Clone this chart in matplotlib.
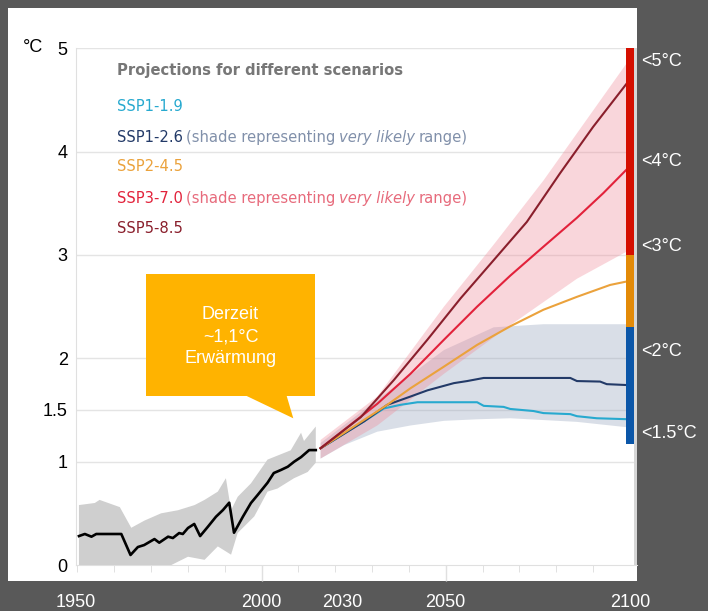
import matplotlib
matplotlib.use("Agg")
import matplotlib.pyplot as plt
from matplotlib import font_manager
from matplotlib.patches import Polygon, Rectangle

W, H = 708, 611

# observed warming 1950-2014 (black line) and its grey range
hist_years = [1950.4, 1952.0, 1953.8, 1955.1, 1961.9, 1964.4, 1966.4, 1968.1, 1970.9, 1972.2,
              1974.6, 1975.9, 1977.6, 1978.6, 1980.0, 1981.7, 1983.3, 1985.4, 1987.6, 1989.5,
              1991.2, 1992.5, 1994.9, 1997.1, 1998.9, 2001.6, 2003.3, 2005.2, 2007.1, 2008.8,
              2010.7, 2012.9, 2014.7]
hist_temp = [0.28, 0.30, 0.274, 0.30, 0.30, 0.097, 0.174, 0.193, 0.251, 0.216,
             0.274, 0.261, 0.309, 0.30, 0.358, 0.397, 0.28, 0.37, 0.467, 0.532,
             0.603, 0.312, 0.467, 0.60, 0.677, 0.796, 0.89, 0.919, 0.951, 0.999,
             1.044, 1.112, 1.112]
hist_hi_years = [1950.4, 1954.7, 1956.0, 1961.5, 1964.6, 1968.2, 1972.7, 1977.3, 1981.8, 1984.5,
                 1988.1, 1990.3, 1991.7, 1993.5, 1997.1, 2001.6, 2007.9, 2010.7, 2011.5, 2014.7]
hist_hi = [0.58, 0.60, 0.63, 0.56, 0.36, 0.43, 0.50, 0.53, 0.58, 0.63,
           0.71, 0.84, 0.53, 0.66, 0.79, 1.02, 1.11, 1.28, 1.20, 1.34]
hist_lo_years = [1950.4, 1975.5, 1980.0, 1984.5, 1988.1, 1991.7, 1993.5, 1998.0, 2001.6, 2004.3,
                 2008.8, 2012.5, 2014.7]
hist_lo = [-0.05, 0.0, 0.08, 0.05, 0.18, 0.10, 0.31, 0.47, 0.71, 0.74,
           0.84, 0.90, 0.99]

# scenario projections
ssp119_years = [2016, 2027.8, 2033.2, 2037.7, 2042.3, 2058.5, 2060.3, 2065.7, 2067.5, 2073.8,
                2076.5, 2083.8, 2085.6, 2091.0, 2100]
ssp119 = [1.13, 1.39, 1.515, 1.55, 1.575, 1.575, 1.54, 1.53, 1.51, 1.49,
          1.47, 1.46, 1.44, 1.42, 1.41]
ssp126_years = [2016, 2027.8, 2034.1, 2040.4, 2045.0, 2052.2, 2055.8, 2060.3, 2083.8, 2085.6,
                2091.9, 2093.7, 2100]
ssp126 = [1.13, 1.39, 1.55, 1.63, 1.69, 1.76, 1.78, 1.81, 1.81, 1.78, 1.775, 1.75, 1.74]
ssp245_years = [2016, 2034.1, 2040.4, 2049.5, 2058.5, 2067.5, 2076.5, 2085.6, 2094.6, 2100]
ssp245 = [1.13, 1.55, 1.71, 1.92, 2.13, 2.31, 2.47, 2.595, 2.71, 2.75]
ssp370_years = [2016, 2031.4, 2040.4, 2049.5, 2058.5, 2067.5, 2076.5, 2085.6, 2092.8, 2100]
ssp370 = [1.13, 1.56, 1.85, 2.18, 2.50, 2.80, 3.08, 3.36, 3.60, 3.86]
ssp585_years = [2016, 2026.9, 2035.9, 2045.0, 2054.0, 2063.0, 2072.0, 2081.0, 2090.0, 2100]
ssp585 = [1.13, 1.43, 1.79, 2.18, 2.58, 2.95, 3.32, 3.79, 4.24, 4.70]

# very likely ranges
r370_hi_years = [2016, 2031.4, 2049.5, 2063.0, 2076.5, 2100]
r370_hi = [1.21, 1.63, 2.50, 3.10, 3.72, 4.90]
r370_lo_years = [2016, 2031.4, 2049.5, 2067.5, 2085.6, 2100]
r370_lo = [1.03, 1.35, 1.85, 2.32, 2.77, 3.05]
r126_hi_years = [2016, 2031.4, 2049.5, 2063.0, 2076.5, 2100]
r126_hi = [1.18, 1.60, 2.08, 2.30, 2.33, 2.33]
r126_lo_years = [2016, 2022.4, 2031.4, 2040.4, 2049.5, 2058.5, 2067.5, 2085.6, 2100]
r126_lo = [1.03, 1.16, 1.29, 1.35, 1.395, 1.41, 1.42, 1.385, 1.33]

# coloured bar at 2100
bar_bottoms = [3.0, 2.3, 1.17]
bar_tops = [5.0, 3.0, 2.3]
bar_colors = ["#d50f00", "#e38a07", "#0b56a8"]
bar_labels = ["<5°C", "<4°C", "<3°C", "<2°C", "<1.5°C"]
bar_label_y = [61.7, 161.7, 246.7, 351.7, 433.3]

yticks = [0, 1, 1.5, 2, 3, 4, 5]
ytick_labels = ["0", "1", "1.5", "2", "3", "4", "5"]
xtick_pos = [1949.6, 1999.8, 2022.0, 2049.9, 2100.0]
xtick_labels = ["1950", "2000", "2030", "2050", "2100"]

c119, c126, c245, c370, c585 = "#27a9cf", "#233a68", "#eba23c", "#e2223b", "#8a1f2c"

# look for a narrow font for the legend block
cond, cstretch, csize = "Roboto", "normal", 10.6
narrow = [f for f in font_manager.fontManager.ttflist
          if f.stretch in ("condensed", "semi-condensed", "extra-condensed")
          or "Narrow" in f.name or "Condensed" in f.name]
if narrow:
    pref = sorted(narrow, key=lambda f: ("Liberation" not in f.name, "Noto" not in f.name,
                                         "DejaVu" not in f.name))[0]
    cond, cstretch, csize = pref.name, pref.stretch, 11.8
plt.rcParams["font.family"] = ["Liberation Sans", "DejaVu Sans"]


def fx(x):
    return x / W


def fy(y):
    return 1 - y / H


fig = plt.figure(figsize=(W / 100, H / 100), dpi=100, facecolor="#595959")
fig.patches.append(Rectangle((fx(8), fy(581)), (637 - 8) / W, (581 - 8) / H,
                             transform=fig.transFigure, facecolor="white", edgecolor="none", zorder=-5))

ax = fig.add_axes([fx(76), fy(565), (637 - 76) / W, (565 - 48.3) / H])
ax.set_facecolor("white")
ax.set_xlim(1950, 1950 + (637 - 76) / 3.693)
ax.set_ylim(0, 5)

for v in [1, 1.5, 2, 3, 4, 5]:
    ax.axhline(v, color="#e4e4e4", lw=1, zorder=1)
for s in ["top", "right"]:
    ax.spines[s].set_visible(False)
for s in ["left", "bottom"]:
    ax.spines[s].set_color("#e0e0e0")

# historical
ax.fill(hist_hi_years + hist_lo_years[::-1], hist_hi + hist_lo[::-1],
        color="#cfcfcf", lw=0, zorder=2)
ax.plot(hist_years, hist_temp, color="black", lw=1.9, zorder=5)

# ranges
ax.fill(r126_hi_years + r126_lo_years[::-1], r126_hi + r126_lo[::-1],
        color="#93a2bb", alpha=0.35, lw=0, zorder=2)
ax.fill(r370_hi_years + r370_lo_years[::-1], r370_hi + r370_lo[::-1],
        color="#f08a98", alpha=0.35, lw=0, zorder=3)

ax.plot(ssp119_years, ssp119, color=c119, lw=1.5, zorder=5)
ax.plot(ssp126_years, ssp126, color=c126, lw=1.5, zorder=5)
ax.plot(ssp245_years, ssp245, color=c245, lw=1.5, zorder=5)
ax.plot(ssp370_years, ssp370, color=c370, lw=1.5, zorder=6)
ax.plot(ssp585_years, ssp585, color=c585, lw=1.5, zorder=6)

ax.axvspan(2101.1, 2102, color="#d6d6d6", lw=0, zorder=4)
ax.bar([2100] * 3, [t - b for t, b in zip(bar_tops, bar_bottoms)], bottom=bar_bottoms,
       width=2.2, color=bar_colors, zorder=7)

# axes ticks
ax.set_yticks(yticks)
ax.set_yticklabels(ytick_labels)
ax.tick_params(axis="y", length=0, pad=6, labelsize=13, labelcolor="black")
ax.set_xticks(xtick_pos)
ax.set_xticklabels(xtick_labels)
ax.set_xticks(range(1950, 2101, 10), minor=True)
ax.tick_params(axis="x", which="major", length=0, pad=21, labelsize=13, labelcolor="white")
ax.tick_params(axis="x", which="minor", length=5, color="#dcdcdc")
ax.vlines([2000, 2050], -0.155, 0, color="#e0e0e0", lw=1, clip_on=False)

fig.text(fx(33), fy(48), "°C", fontsize=13, ha="center", va="center")

# callout
fig.patches.append(Polygon([(fx(146), fy(274)), (fx(315), fy(274)), (fx(315), fy(396)),
                            (fx(286.7), fy(396)), (fx(293.3), fy(418.3)), (fx(246.7), fy(396)),
                            (fx(146), fy(396))],
                           closed=True, transform=fig.transFigure, facecolor="#ffb300",
                           edgecolor="none", zorder=10))
fig.text(fx(230.5), fy(336.7), "Derzeit\n~1,1°C\nErwärmung", color="white", fontsize=13,
         ha="center", va="center", linespacing=1.38, zorder=11)

for lab, y in zip(bar_labels, bar_label_y):
    fig.text(fx(641), fy(y), lab, color="white", fontsize=13, ha="left", va="center")

# legend block
renderer = fig.canvas.get_renderer()


def pieces(x, y, parts):
    for txt, col, style in parts:
        t = fig.text(fx(x), fy(y), txt, color=col, fontsize=csize, family=cond,
                     fontstretch=cstretch, style=style, ha="left", va="center", zorder=12)
        x += t.get_window_extent(renderer).width + csize * 0.3


fig.text(fx(116.7), fy(70.7), "Projections for different scenarios", color="#777777",
         fontsize=csize, family=cond, fontstretch=cstretch, weight="bold",
         ha="left", va="center", zorder=12)
pieces(116.7, 106.7, [("SSP1-1.9", c119, "normal")])
pieces(116.7, 137.3, [("SSP1-2.6", c126, "normal"), ("(shade representing", "#8190aa", "normal"),
                      ("very likely", "#8190aa", "italic"), ("range)", "#8190aa", "normal")])
pieces(116.7, 166.7, [("SSP2-4.5", c245, "normal")])
pieces(116.7, 198.3, [("SSP3-7.0", c370, "normal"), ("(shade representing", "#e76b7c", "normal"),
                      ("very likely", "#e76b7c", "italic"), ("range)", "#e76b7c", "normal")])
pieces(116.7, 228.3, [("SSP5-8.5", c585, "normal")])

fig.savefig("out.png", dpi=100, facecolor=fig.get_facecolor())
